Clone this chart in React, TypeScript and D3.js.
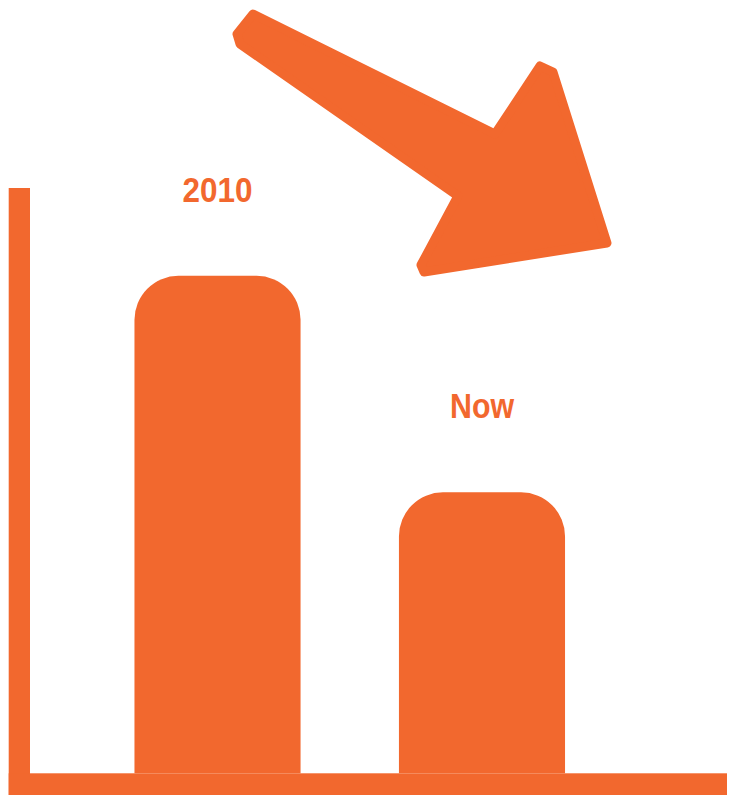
import React, { useEffect, useRef } from 'react';
import * as d3 from 'd3';

// chart data
const categories = ['2010', 'Now'];
const values = [85, 48];
const labelWidths = [70, 64];

// decorative arrow outline (annotation, not data)
const arrowShape: [number, number][] = [
  [253, 14], [495, 134], [540, 66], [553, 72], [607, 243],
  [424, 272], [421, 265], [458, 196], [240, 44], [237, 34],
];

const ORANGE = '#F2682E';
const WIDTH = 731;
const HEIGHT = 795;

export default function App() {
  const svgRef = useRef<SVGSVGElement>(null);

  useEffect(() => {
    if (!svgRef.current) return;
    const svg = d3.select(svgRef.current);
    svg.selectAll('*').remove();

    const baseY = 773.3;
    const topY = 188;

    const x = d3
      .scaleBand<string>()
      .domain(categories)
      .range([30, 669.5])
      .paddingInner(0.372)
      .paddingOuter(0.395);

    const y = d3.scaleLinear().domain([0, 100]).range([baseY, topY]);

    // bars with rounded tops
    const r = 44;
    categories.forEach((c, i) => {
      const x0 = x(c)!;
      const w = x.bandwidth();
      const yt = y(values[i]);
      const p = d3.path();
      p.moveTo(x0, baseY);
      p.lineTo(x0, yt + r);
      p.arcTo(x0, yt, x0 + r, yt, r);
      p.lineTo(x0 + w - r, yt);
      p.arcTo(x0 + w, yt, x0 + w, yt + r, r);
      p.lineTo(x0 + w, baseY);
      p.closePath();
      svg.append('path').attr('d', p.toString()).attr('fill', ORANGE);

      svg
        .append('text')
        .attr('x', x0 + w / 2)
        .attr('y', yt - 74)
        .attr('text-anchor', 'middle')
        .attr('font-family', '"Liberation Sans Narrow", "Liberation Sans", Arial, sans-serif')
        .attr('font-weight', 'bold')
        .attr('font-size', 35)
        .attr('textLength', labelWidths[i])
        .attr('lengthAdjust', 'spacingAndGlyphs')
        .attr('fill', ORANGE)
        .text(c);
    });

    // axes
    svg.append('rect').attr('x', 8.7).attr('y', topY).attr('width', 21.3).attr('height', HEIGHT - topY).attr('fill', ORANGE);
    svg.append('rect').attr('x', 8.7).attr('y', baseY).attr('width', 727 - 8.7).attr('height', HEIGHT - baseY).attr('fill', ORANGE);

    // arrow
    const line = d3.line().curve(d3.curveLinearClosed);
    svg
      .append('path')
      .attr('d', line(arrowShape))
      .attr('fill', ORANGE)
      .attr('stroke', ORANGE)
      .attr('stroke-width', 9)
      .attr('stroke-linejoin', 'round');
  }, []);

  return (
    <svg
      ref={svgRef}
      width={WIDTH}
      height={HEIGHT}
      style={{ position: 'absolute', left: 0, top: 0, background: '#fff' }}
    />
  );
}
